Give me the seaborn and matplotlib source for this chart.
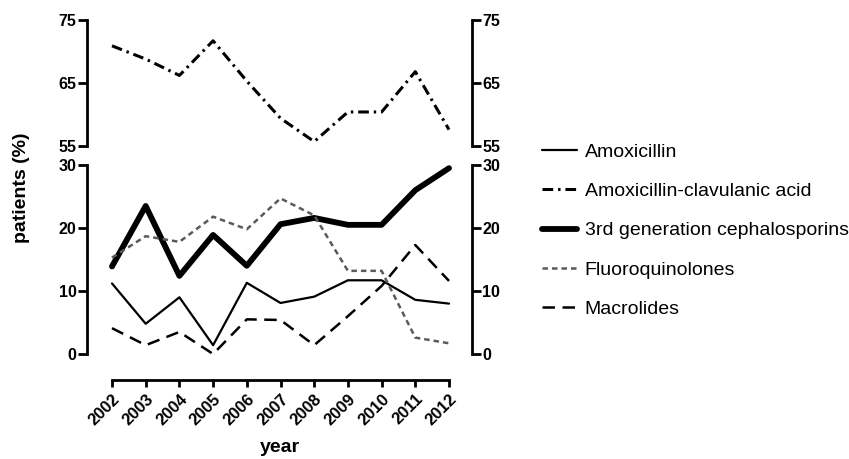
import matplotlib
matplotlib.use("Agg")
import matplotlib.pyplot as plt
from matplotlib.lines import Line2D
import seaborn as sns

years = [2002, 2003, 2004, 2005, 2006, 2007, 2008, 2009, 2010, 2011, 2012]
amoxicillin = [11.2, 4.8, 9.0, 1.4, 11.3, 8.1, 9.1, 11.7, 11.7, 8.6, 8.0]
amox_clav = [70.9, 68.8, 66.2, 71.7, 65.3, 59.4, 55.7, 60.4, 60.4, 66.8, 57.6]
cephalosporins = [13.9, 23.5, 12.4, 18.9, 14.0, 20.6, 21.6, 20.5, 20.5, 26.0, 29.5]
fluoroquinolones = [15.3, 18.7, 17.8, 21.8, 19.8, 24.7, 22.0, 13.2, 13.2, 2.6, 1.7]
macrolides = [4.1, 1.4, 3.5, 0.0, 5.5, 5.4, 1.4, 6.0, 10.8, 17.3, 11.6]

labels = ["Amoxicillin", "Amoxicillin-clavulanic acid",
          "3rd generation cephalosporins", "Fluoroquinolones", "Macrolides"]
series = [amoxicillin, amox_clav, cephalosporins, fluoroquinolones, macrolides]
styles = [
    dict(color="black", lw=1.6, linestyle="-"),
    dict(color="black", lw=2.2, linestyle=(0, (3.5, 1.6, 0.8, 1.6))),
    dict(color="black", lw=4.2, linestyle="-"),
    dict(color="#5a5a5a", lw=1.8, linestyle=(0, (2.2, 1.6))),
    dict(color="black", lw=1.8, linestyle=(0, (5, 3))),
]

sns.set_style("ticks")
plt.rcParams["font.family"] = ["Liberation Sans", "DejaVu Sans"]
plt.rcParams["text.color"] = "black"
plt.rcParams["xtick.color"] = "black"
plt.rcParams["ytick.color"] = "black"

W, H = 849, 459
fig = plt.figure(figsize=(W / 100, H / 100), dpi=100)
left, right = 87 / W, 472 / W
ax_top = fig.add_axes([left, 1 - 146 / H, right - left, 126 / H])
ax_bot = fig.add_axes([left, 1 - 354 / H, right - left, 189 / H])

for ax, (lo, hi) in ((ax_top, (55, 75)), (ax_bot, (0, 30))):
    for vals, lab, st in zip(series, labels, styles):
        # each series goes into the panel that holds its range
        if min(vals) >= hi or max(vals) <= lo:
            continue
        sns.lineplot(x=years, y=vals, ax=ax, **st)
        ax.lines[-1].set_clip_on(ax is ax_top)
    ax.set_xlim(2002 - 25 / 33.7, 2012 + 23 / 33.7)
    ax.set_ylim(lo, hi)
    ax.set_ylabel("")
    ax.set_xlabel("")
    for s in ax.spines.values():
        s.set_linewidth(2)
        s.set_color("black")
    ax.spines["top"].set_visible(False)
    ax.spines["right"].set_visible(True)
    ax.tick_params(axis="y", left=True, right=True, labelleft=True,
                   labelright=True, width=2, length=6.5, labelsize=11.5, pad=1)

ax_top.set_yticks([55, 65, 75])
ax_top.spines["bottom"].set_visible(False)
ax_top.tick_params(axis="x", bottom=False, labelbottom=False)

ax_bot.set_yticks([0, 10, 20, 30])
ax_bot.spines["bottom"].set_position(("outward", 19))
ax_bot.spines["bottom"].set_bounds(2002, 2012)
ax_bot.set_xticks(years)
ax_bot.set_xticklabels([str(y) for y in years], rotation=45, ha="right",
                       rotation_mode="anchor", fontweight="bold", fontsize=12)
ax_bot.tick_params(axis="x", width=2, length=5, pad=3)

for t in ax_top.get_yticklabels() + ax_bot.get_yticklabels():
    t.set_fontweight("bold")

fig.text(22 / W, 1 - 188 / H, "patients (%)", rotation=90, ha="center",
         va="center", fontsize=14, fontweight="bold")
fig.text(280 / W, 1 - 447 / H, "year", ha="center", va="center",
         fontsize=14, fontweight="bold")

handles = [Line2D([], [], **st) for st in styles]
fig.legend(handles, labels, loc="upper left", bbox_to_anchor=(542 / W, 1 - 143 / H),
           frameon=False, fontsize=14, handlelength=1.8, handletextpad=0.4,
           labelspacing=1.12, borderpad=0, borderaxespad=0)

fig.savefig("out.png", dpi=100)
